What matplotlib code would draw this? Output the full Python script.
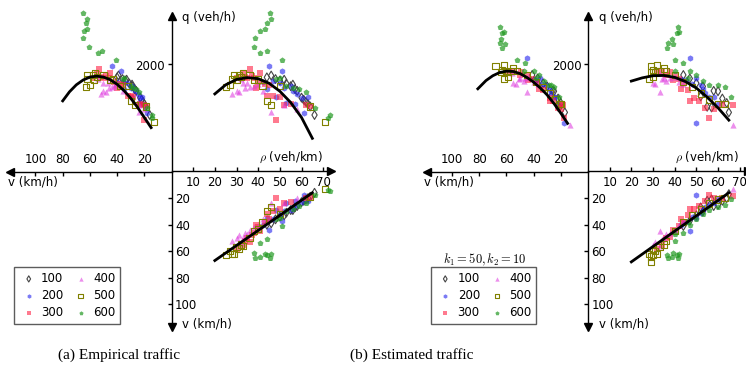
import numpy as np
import matplotlib
matplotlib.use('Agg')
import matplotlib.pyplot as plt

plt.rcParams['mathtext.fontset'] = 'cm'
plt.rcParams['font.size'] = 8.5

groups = [100, 200, 300, 400, 500, 600]

### (a) empirical traffic: density rho (veh/km) and speed v (km/h) per sample
rho_a100 = [46, 50, 52, 55, 56, 58, 60, 62, 63, 66, 44, 48, 53, 57, 61, 64]
v_a100 = [39, 34, 33, 29, 29, 26, 23, 21, 20, 16, 40, 36, 31, 27, 22, 19]
rho_a200 = [45, 47, 50, 52, 55, 57, 60, 61, 63, 48, 53, 58, 42, 44, 51, 56]
v_a200 = [44, 36, 33, 30, 29, 22, 23, 18, 22, 29, 24, 25, 40, 35, 37, 27]
rho_a300 = [30, 33, 35, 36, 38, 40, 41, 43, 45, 47, 48, 50, 52, 55, 62, 64, 39, 44, 37, 34]
v_a300 = [58, 55, 50, 53, 46, 42, 45, 38, 36, 30, 20, 28, 24, 23, 20, 19, 40, 32, 48, 52]
rho_a400 = [28, 30, 31, 33, 34, 36, 38, 40, 42, 46, 52, 58, 35, 32]
v_a400 = [52, 50, 48, 50, 46, 44, 42, 41, 36, 24, 24, 20, 47, 54]
rho_a500 = [25, 27, 28, 29, 30, 31, 32, 33, 36, 40, 44, 46, 50, 64, 71, 38, 42]
v_a500 = [63, 60, 62, 62, 57, 58, 55, 56, 50, 43, 30, 27, 32, 19, 13, 45, 38]
rho_a600 = [45.5, 44, 41, 38.5, 38, 41, 44, 51, 48, 50, 53, 56, 59, 62, 66, 72, 73, 46, 43]
v_a600 = [65, 63, 64, 65, 61, 54, 51, 41, 36, 35, 30, 28, 26, 24, 18, 14, 14.5, 62, 62]

### (b) estimated traffic
rho_b100 = [44, 47, 50, 53, 55, 58, 60, 62, 64, 57, 52, 65]
v_b100 = [41, 37, 33, 30, 22, 26, 25, 22, 20, 21, 27, 17]
rho_b200 = [47, 45, 50, 52, 54, 56, 48, 43, 58, 60, 50, 53]
v_b200 = [45, 38, 35, 31, 27, 25, 34, 40, 24, 21, 18, 29]
rho_b300 = [32, 34, 36, 38, 40, 42, 44, 46, 47, 49, 51, 54, 56, 58, 62, 67, 39, 43]
v_b300 = [58, 55, 50, 49, 45, 41, 38, 33, 28, 28, 26, 22, 18, 20, 20, 18.5, 44, 36]
rho_b400 = [30, 31, 33, 34, 35, 36, 38, 40, 42, 33, 67, 44]
v_b400 = [55, 53, 45, 51, 50, 47, 46, 44, 40, 56, 13, 37]
rho_b500 = [28, 29, 30, 31, 32, 30, 33, 36, 40, 44, 48, 52, 56, 60, 63, 29, 35]
v_b500 = [62, 68, 63, 60, 62, 59, 57, 52, 45, 38, 33, 28, 24, 21, 20, 64, 55]
rho_b600 = [41.5, 41, 38.8, 36.5, 39, 37, 42, 40, 44, 47, 50, 53, 56, 60, 63, 66, 46, 40]
v_b600 = [65, 63, 64, 63, 61, 65, 62, 52, 46, 40, 36, 32, 29, 27, 25, 21, 38, 47]

### fitted fundamental diagram
fit_a_v = [80, 75, 70, 65, 60, 55, 50, 45, 40, 35, 30, 25, 20, 15]
fit_a_qv = [1320, 1490, 1620, 1710, 1765, 1782, 1765, 1715, 1630, 1515, 1370, 1200, 1010, 820]
fit_a_rho = [20, 25, 30, 35, 40, 45, 50, 55, 60, 65]
fit_a_qrho = [1450, 1620, 1720, 1755, 1735, 1650, 1500, 1290, 1010, 620]
fit_a_line_rho = [20, 65]
fit_a_line_v = [67, 16]

fit_b_v = [81, 75, 70, 65, 60, 55, 50, 45, 40, 35, 30, 25, 20, 15]
fit_b_qv = [1546, 1700, 1790, 1850, 1875, 1870, 1830, 1760, 1670, 1560, 1430, 1270, 1090, 900]
fit_b_rho = [20, 25, 30, 35, 40, 45, 50, 55, 60, 65]
fit_b_qrho = [1690, 1750, 1790, 1795, 1760, 1680, 1560, 1390, 1190, 960]
fit_b_line_rho = [20, 65]
fit_b_line_v = [68, 16]

rho_ticks = [10, 20, 30, 40, 50, 60, 70]
q_ticks = [2000]
v_ticks = [20, 40, 60, 80, 100]

styles = {
    100: dict(marker='d', facecolors='none', edgecolors='#444444', linewidths=0.8),
    200: dict(marker='h', color='#2222ee', alpha=0.6, linewidths=0),
    300: dict(marker='s', color='#ff2244', alpha=0.6, linewidths=0),
    400: dict(marker='^', color='#dd33dd', alpha=0.55, linewidths=0),
    500: dict(marker='s', facecolors='none', edgecolors='#808000', linewidths=0.8),
    600: dict(marker='p', color='#229922', alpha=0.7, linewidths=0),
}

W, H = 746, 369
# pixel geometry of one four-quadrant diagram
PX_RHO, PX_Q, PX_VH, PX_VV = 2.167, 0.0535, 1.36, 1.329
RIGHT, TOP, LEFT, BOT = 159.5, 155.5, 161.5, 155.5

fig = plt.figure(figsize=(W / 100, H / 100), dpi=100)


def px_axes(x0, y0, x1, y1):
    ax = fig.add_axes([x0 / W, 1 - y1 / H, (x1 - x0) / W, (y1 - y0) / H])
    ax.patch.set_visible(False)
    for s in ax.spines.values():
        s.set_visible(False)
    ax.set_xticks([])
    ax.set_yticks([])
    return ax


def ftext(x, y, s, **kw):
    fig.text(x / W, 1 - y / H, s, **kw)


def drawPanel(ox, oy, rhos, vs, fit, legend_title=None):
    ur = px_axes(ox, oy - TOP, ox + RIGHT, oy)
    ul = px_axes(ox - LEFT, oy - TOP, ox, oy)
    ll = px_axes(ox - LEFT, oy, ox, oy + BOT)
    lr = px_axes(ox, oy, ox + RIGHT, oy + BOT)
    rmax, qmax = RIGHT / PX_RHO, TOP / PX_Q
    vhmax, vvmax = LEFT / PX_VH, BOT / PX_VV
    ur.set_xlim(0, rmax); ur.set_ylim(0, qmax)
    ul.set_xlim(vhmax, 0); ul.set_ylim(0, qmax)
    ll.set_xlim(vhmax, 0); ll.set_ylim(vvmax, 0)
    lr.set_xlim(0, rmax); lr.set_ylim(vvmax, 0)

    # axis cross
    for sp in ['left', 'bottom']:
        ur.spines[sp].set_visible(True)
        ur.spines[sp].set_linewidth(1.0)
    for sp in ['top', 'right']:
        ll.spines[sp].set_visible(True)
        ll.spines[sp].set_linewidth(1.0)
    ur.set_xticks(rho_ticks)
    ur.set_yticks(q_ticks)
    ur.tick_params(axis='x', direction='in', length=3, width=1, pad=3)
    ur.tick_params(axis='y', direction='out', length=3, width=1, pad=1.5)
    ll.xaxis.tick_top()
    ll.yaxis.tick_right()
    ll.set_xticks(v_ticks)
    ll.set_yticks(v_ticks)
    ll.tick_params(axis='x', direction='in', length=3, width=1, pad=4)
    ll.tick_params(axis='y', direction='in', length=3, width=1, pad=2.5)
    ur.plot(1, 0, '>k', ms=6, transform=ur.transAxes, clip_on=False)
    ur.plot(0, 1, '^k', ms=6, transform=ur.transAxes, clip_on=False)
    ll.plot(0, 1, '<k', ms=6, transform=ll.transAxes, clip_on=False)
    ll.plot(1, 0, 'vk', ms=6, transform=ll.transAxes, clip_on=False)

    handles = []
    for g, rho, v in zip(groups, rhos, vs):
        rho = np.array(rho)
        v = np.array(v)
        q = rho * v  # flow = density x speed
        ul.scatter(v, q, s=20, clip_on=False, **styles[g])
        ur.scatter(rho, q, s=20, clip_on=False, **styles[g])
        h = lr.scatter(rho, v, s=20, clip_on=False, label=str(g), **styles[g])
        handles.append(h)

    ul.plot(fit[0], fit[1], 'k-', lw=2, zorder=5)
    ur.plot(fit[2], fit[3], 'k-', lw=2, zorder=5)
    lr.plot(fit[4], fit[5], 'k-', lw=2, zorder=5)

    ftext(ox + 11, 17, 'q (veh/h)', ha='left', va='center')
    ftext(ox + 151, 157, r'$\rho$ (veh/km)', ha='right', va='center')
    ftext(ox - 164, 182, 'v (km/h)', ha='left', va='center')
    ftext(ox + 11, 324, 'v (km/h)', ha='left', va='center')

    lx, ly = ox - 157.5, 324
    leg = ll.legend(handles=handles, ncol=2, loc='lower left',
                    bbox_to_anchor=(lx / W, 1 - ly / H), bbox_transform=fig.transFigure,
                    borderaxespad=0, fancybox=False, edgecolor='#333333',
                    scatterpoints=1, markerscale=0.7, labelspacing=0.35,
                    handlelength=1.7, handletextpad=0.2, columnspacing=0.6,
                    borderpad=0.4, fontsize=8.5)
    leg.get_frame().set_linewidth(1.0)
    if legend_title:
        ftext(lx + 54, 260, legend_title, ha='center', va='center', fontsize=9)


drawPanel(171.5, 171.5,
          [rho_a100, rho_a200, rho_a300, rho_a400, rho_a500, rho_a600],
          [v_a100, v_a200, v_a300, v_a400, v_a500, v_a600],
          [fit_a_v, fit_a_qv, fit_a_rho, fit_a_qrho, fit_a_line_rho, fit_a_line_v])
drawPanel(588, 171.5,
          [rho_b100, rho_b200, rho_b300, rho_b400, rho_b500, rho_b600],
          [v_b100, v_b200, v_b300, v_b400, v_b500, v_b600],
          [fit_b_v, fit_b_qv, fit_b_rho, fit_b_qrho, fit_b_line_rho, fit_b_line_v],
          legend_title=r'$k_1 = 50, k_2 = 10$')

ftext(119, 355, '(a) Empirical traffic', ha='center', va='center',
      family='Liberation Serif', fontsize=11)
ftext(412, 355, '(b) Estimated traffic', ha='center', va='center',
      family='Liberation Serif', fontsize=11)

fig.savefig('out.png', dpi=100)
